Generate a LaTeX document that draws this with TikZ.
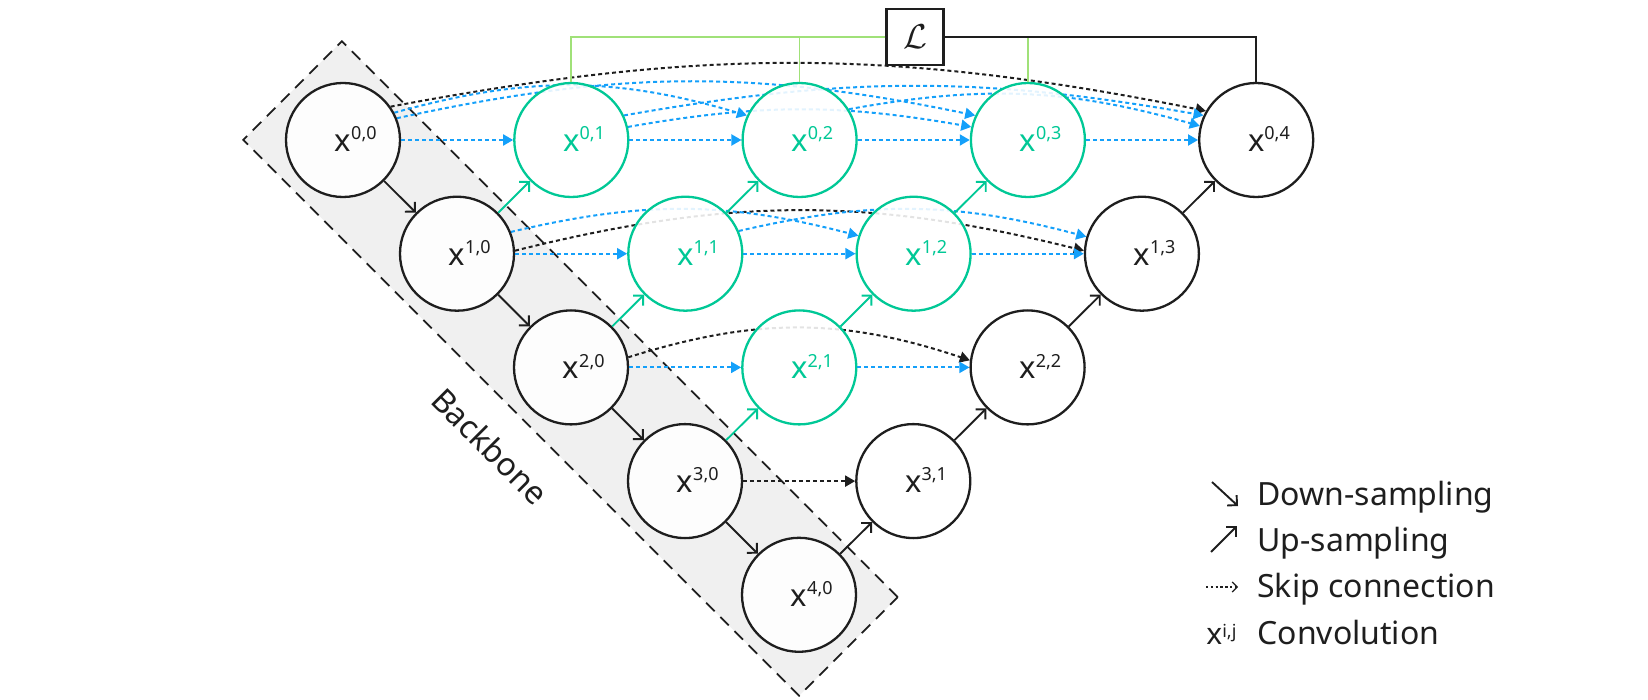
\documentclass[tikz,border=0pt]{standalone}
\usepackage{fontspec}
\setmainfont{Noto Sans}
\usetikzlibrary{arrows.meta}
\definecolor{grn}{RGB}{0,200,150}
\definecolor{blu}{RGB}{20,160,250}
\definecolor{lgrn}{RGB}{160,225,120}
\definecolor{bbgray}{RGB}{240,240,240}
\definecolor{ink}{RGB}{30,30,30}
\pgfdeclarelayer{bg}
\pgfdeclarelayer{curves}
\pgfsetlayers{bg,curves,main}
\newcommand{\xlab}[1]{x\rlap{\smash{\raisebox{5.8pt}{\fontsize{9}{9}\selectfont #1}}}}
\begin{document}
\begin{tikzpicture}[x=0.5pt,y=0.5pt,
  conv/.style={circle, draw=ink, line width=1.15pt, minimum size=57pt, inner sep=0pt,
    fill=white, fill opacity=0.88, text opacity=1, draw opacity=1,
    font=\fontsize{15.5}{16}\selectfont, text=ink, text height=11.3pt, text depth=0pt},
  gconv/.style={conv, draw=grn, text=grn},
  dn/.style={draw=ink, line width=0.95pt, -{Straight Barb[length=3.5pt,width=7pt]}},
  upg/.style={dn, draw=grn},
  skipb/.style={draw=blu, line width=1pt, dash pattern=on 2pt off 1.5pt,
    -{Triangle[length=5pt,width=5.5pt]}},
  skipk/.style={skipb, draw=ink},
  legtext/.style={anchor=base west, font=\fontsize{16}{16}\selectfont, text=ink, inner sep=0pt}
]
\useasboundingbox (0,0) rectangle (1648,-700);

% backbone
\begin{pgfonlayer}{bg}
\node[draw=ink, fill=bbgray, line width=0.9pt, dash pattern=on 6pt off 4pt,
  rotate=-45, minimum width=393pt, minimum height=69.7pt, inner sep=0pt] (bb) at (570.5,-368.5) {};
\end{pgfonlayer}
\node[rotate=-45, font=\fontsize{16}{16}\selectfont, text=ink] (bbl) at (490,-446) {Backbone};

% nodes
\node[conv]  (x00) at (343,-140)    {\xlab{0,0}};
\node[gconv] (x01) at (571.3,-140)  {\xlab{0,1}};
\node[gconv] (x02) at (799.6,-140)  {\xlab{0,2}};
\node[gconv] (x03) at (1027.9,-140) {\xlab{0,3}};
\node[conv]  (x04) at (1256.2,-140) {\xlab{0,4}};
\node[conv]  (x10) at (457,-253.7)    {\xlab{1,0}};
\node[gconv] (x11) at (685.3,-253.7)  {\xlab{1,1}};
\node[gconv] (x12) at (913.6,-253.7)  {\xlab{1,2}};
\node[conv]  (x13) at (1141.9,-253.7) {\xlab{1,3}};
\node[conv]  (x20) at (571,-367.4)    {\xlab{2,0}};
\node[gconv] (x21) at (799.3,-367.4)  {\xlab{2,1}};
\node[conv]  (x22) at (1027.6,-367.4) {\xlab{2,2}};
\node[conv]  (x30) at (685,-481.1)    {\xlab{3,0}};
\node[conv]  (x31) at (913.3,-481.1)  {\xlab{3,1}};
\node[conv]  (x40) at (799,-594.8)    {\xlab{4,0}};

% loss box
\node[draw=ink, line width=1.1pt, minimum width=28.5pt, minimum height=28pt, inner sep=0pt,
  font=\fontsize{18}{18}\selectfont, text=ink] (L) at (915,-37) {$\mathcal{L}$};
\draw[lgrn, line width=0.85pt] (L.west) -| (x01.north);
\draw[lgrn, line width=0.85pt] (x02.north) -- (x02.north |- L.west);
\draw[lgrn, line width=0.85pt] (x03.north) -- (x03.north |- L.east);
\draw[ink, line width=1.1pt] (L.east) -| (x04.north);

% curved skip connections
\begin{pgfonlayer}{curves}
\draw[skipk] (x00.35) to[bend left=11] (x04.150);
\draw[skipb] (x00.28) to[bend left=16] (x02.155);
\draw[skipb] (x00.22) to[bend left=12] (x03.155);
\draw[skipb] (x01.13) to[bend left=10] (x03.167);
\draw[skipb] (x01.25) to[bend left=10] (x04.155);
\draw[skipb] (x02.32) to[bend left=13] (x04.166);
\draw[skipk] (x10.3) to[bend left=14] (x13.177);
\draw[skipb] (x10.22) to[bend left=14] (x12.162);
\draw[skipb] (x11.23) to[bend left=14] (x13.163);
\draw[skipk] (x20.10) to[bend left=18] (x22.173);
\end{pgfonlayer}

% straight skip connections
\draw[skipb] (x00) -- (x01);
\draw[skipb] (x01) -- (x02);
\draw[skipb] (x02) -- (x03);
\draw[skipb] (x03) -- (x04);
\draw[skipb] (x10) -- (x11);
\draw[skipb] (x11) -- (x12);
\draw[skipb] (x12) -- (x13);
\draw[skipb] (x20) -- (x21);
\draw[skipb] (x21) -- (x22);
\draw[skipk] (x30) -- (x31);

% down-sampling
\draw[dn] (x00) -- (x10);
\draw[dn] (x10) -- (x20);
\draw[dn] (x20) -- (x30);
\draw[dn] (x30) -- (x40);
% up-sampling
\draw[upg] (x10) -- (x01);
\draw[upg] (x20) -- (x11);
\draw[upg] (x11) -- (x02);
\draw[upg] (x30) -- (x21);
\draw[upg] (x21) -- (x12);
\draw[upg] (x12) -- (x03);
\draw[dn] (x40) -- (x31);
\draw[dn] (x31) -- (x22);
\draw[dn] (x22) -- (x13);
\draw[dn] (x13) -- (x04);

% legend
\coordinate (ld1) at (1212,-482);
\coordinate (ld2) at (1238,-506);
\draw[dn] (ld1) -- (ld2);
\coordinate (lu1) at (1211,-552);
\coordinate (lu2) at (1237,-526);
\draw[dn] (lu1) -- (lu2);
\coordinate (ls1) at (1206,-587);
\coordinate (ls2) at (1238,-587);
\draw[ink, line width=0.6pt, dash pattern=on 1.2pt off 1.2pt, -{Straight Barb[length=2.5pt,width=5pt]}] (ls1) -- (ls2);
\node[legtext] (t1) at (1257,-505) {Down-sampling};
\node[legtext] (t2) at (1257,-551) {Up-sampling};
\node[legtext] (t3) at (1257,-597) {Skip connection};
\node[legtext] (t4) at (1257,-644) {Convolution};
\node[anchor=base west, inner sep=0pt, font=\fontsize{15}{15}\selectfont, text=ink] (t5) at (1206,-644)
  {x\raisebox{3.5pt}{\fontsize{9}{9}\selectfont i,j}};
\end{tikzpicture}
\end{document}
